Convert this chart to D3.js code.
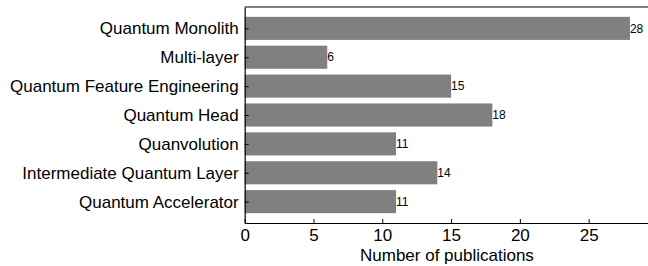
<html>
<head>
<script src="https://d3js.org/d3.v7.min.js"></script>
<style>
  body { margin: 0; background: #fff; }
  text { font-family: "Liberation Sans", Arial, sans-serif; fill: #000; }
</style>
</head>
<body>
<script>
// data
var categorias = ["Quantum Monolith", "Multi-layer", "Quantum Feature Engineering",
  "Quantum Head", "Quanvolution", "Intermediate Quantum Layer", "Quantum Accelerator"];
var totales = [28, 6, 15, 18, 11, 14, 11];
var ticksX = [0, 5, 10, 15, 20, 25];

var datos = categorias.map((c, i) => ({ nombre: c, total: totales[i] }));

var ancho = 648, alto = 266;
var izq = 244.7, arriba = 7, abajo = 223;

var escalaX = d3.scaleLinear()
  .domain([0, d3.max(totales) * 1.05])
  .range([izq, izq + 404.5]);

// matplotlib style: bars of height 0.8, 5% margins
var n = categorias.length;
var pad = (n - 1 + 0.8) * 0.05;
var escalaY = d3.scaleLinear()
  .domain([-0.4 - pad, n - 1 + 0.4 + pad])
  .range([arriba, abajo]);

var grafica = d3.select("body").append("svg")
  .attr("width", ancho)
  .attr("height", alto);

grafica.selectAll("rect.barra")
  .data(datos)
  .enter()
  .append("rect")
  .attr("class", "barra")
  .attr("x", escalaX(0))
  .attr("y", (d, i) => escalaY(i - 0.4))
  .attr("width", d => escalaX(d.total) - escalaX(0))
  .attr("height", escalaY(0.8) - escalaY(0))
  .attr("fill", "#808080");

// value labels
grafica.selectAll("text.valor")
  .data(datos)
  .enter()
  .append("text")
  .attr("class", "valor")
  .attr("x", d => escalaX(d.total))
  .attr("y", (d, i) => escalaY(i))
  .attr("dy", "0.35em")
  .attr("font-size", 12)
  .text(d => d.total);

// spines
var x1 = escalaX.range()[1];
grafica.append("line").attr("x1", izq).attr("x2", x1).attr("y1", arriba).attr("y2", arriba)
  .attr("stroke", "#000").attr("stroke-width", 1.2);
grafica.append("line").attr("x1", x1).attr("x2", x1).attr("y1", arriba).attr("y2", abajo)
  .attr("stroke", "#000").attr("stroke-width", 1);

// x axis (ticks inward)
var ejeX = grafica.append("g")
  .attr("transform", "translate(0," + abajo + ")")
  .call(d3.axisBottom(escalaX).tickValues(ticksX).tickSizeInner(-4).tickSizeOuter(0).tickPadding(6));
ejeX.select(".domain").attr("stroke-width", 1.2);
ejeX.selectAll("text").attr("font-size", 17).attr("font-family", "Liberation Sans, Arial, sans-serif");

// y axis (ticks inward)
var ejeY = grafica.append("g")
  .attr("transform", "translate(" + izq + ",0)")
  .call(d3.axisLeft(escalaY).tickValues(d3.range(n)).tickFormat(i => categorias[i])
    .tickSizeInner(-4).tickSizeOuter(0).tickPadding(6));
ejeY.select(".domain").attr("stroke-width", 1.2);
ejeY.selectAll("text").attr("font-size", 17).attr("font-family", "Liberation Sans, Arial, sans-serif");

grafica.append("text")
  .attr("x", (izq + x1) / 2)
  .attr("y", 261)
  .attr("text-anchor", "middle")
  .attr("font-size", 17)
  .text("Number of publications");
</script>
</body>
</html>
